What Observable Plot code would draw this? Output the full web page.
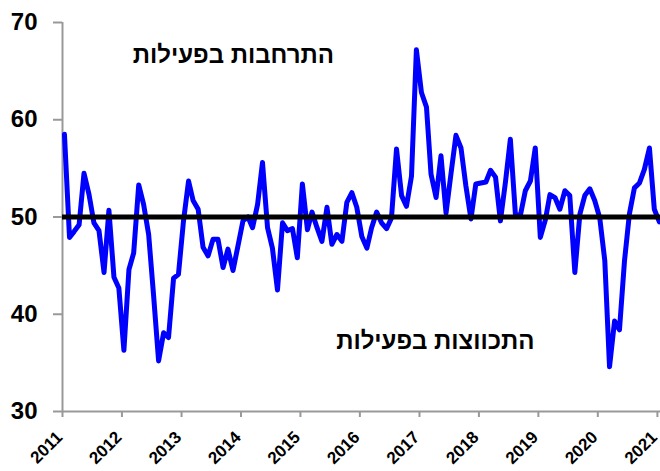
<!DOCTYPE html>
<html><head><meta charset="utf-8">
<script src="https://cdn.jsdelivr.net/npm/d3@7"></script>
<script src="https://cdn.jsdelivr.net/npm/@observablehq/plot@0.6"></script>
<style>body{margin:0;background:#fff} svg{display:block}</style>
</head><body><div id="chart"></div>
<script>
const startYear = 2011;
const values = [
  58.5, 47.9, 48.5, 49.2, 54.5, 52.3, 49.4, 48.6, 44.3, 50.7, 43.8, 42.7,
  36.3, 44.6, 46.3, 53.3, 51.3, 48.2, 42.0, 35.2, 38.1, 37.6, 43.7, 44.1,
  49.6, 53.7, 51.7, 50.8, 46.9, 46.0, 47.7, 47.7, 44.8, 46.7, 44.5, 47.0,
  49.6, 50.0, 48.9, 51.3, 55.6, 48.9, 46.8, 42.5, 49.4, 48.6, 48.8, 45.8,
  53.4, 48.7, 50.5, 48.9, 47.5, 51.0, 47.2, 48.2, 47.5, 51.5, 52.5, 51.0,
  48.0, 46.8, 48.9, 50.5, 49.4, 48.8, 49.9, 57.0, 52.2, 51.1, 54.2, 67.2,
  62.8, 61.3, 54.4, 52.0, 56.3, 50.4, 54.4, 58.4, 57.1, 53.2, 49.8, 53.4,
  53.5, 53.6, 54.8, 54.1, 49.6, 53.6, 58.0, 50.3, 50.2, 52.7, 53.7, 57.1,
  47.9, 49.7, 52.3, 52.0, 50.8, 52.7, 52.2, 44.3, 50.3, 52.2, 52.9, 51.7,
  49.9, 45.5, 34.6, 39.3, 38.4, 45.5, 50.3, 53.0, 53.5, 54.9, 57.1, 50.8,
  49.5
];
const yearTicks = [2011, 2012, 2013, 2014, 2015, 2016, 2017, 2018, 2019, 2020, 2021];
const yTicks = [30, 40, 50, 60, 70];
const threshold = 50;
const labels = ["התרחבות בפעילות", "התכווצות בפעילות"];

const utc = (y, m = 0, d = 1) => new Date(Date.UTC(y, m, d));
const data = values.map((v, i) => ({date: utc(startYear, i, 13), value: v}));
const yearDates = yearTicks.map(y => utc(y));
const annotations = [
  {text: labels[0], date: utc(2013, 10, 15), value: 66.6},
  {text: labels[1], date: utc(2017, 3, 8), value: 37.2}
];

const chart = Plot.plot({
  width: 660, height: 471,
  marginLeft: 62, marginRight: 0, marginTop: 22, marginBottom: 60,
  style: {fontFamily: "'Liberation Sans', Arial, sans-serif", background: "white", color: "black"},
  x: {type: "utc", domain: [utc(2011), utc(2021, 0, 20)]},
  y: {domain: [30, 70]},
  marks: [
    Plot.ruleY([30], {stroke: "#999", strokeWidth: 2}),
    Plot.ruleX([utc(2011)], {stroke: "#999", strokeWidth: 2}),
    Plot.axisY(yTicks, {tickSize: 9, tickPadding: 16, stroke: "#999", strokeWidth: 2, fill: "black",
      fontSize: 24, fontWeight: "bold", label: null}),
    Plot.axisX(yearDates, {tickSize: 6, text: null, stroke: "#999", strokeWidth: 2, label: null}),
    Plot.text(yearDates, {x: d => d, frameAnchor: "bottom", text: d => d3.utcFormat("%Y")(d),
      rotate: -45, textAnchor: "end", lineAnchor: "middle", dx: -3, dy: 23,
      fill: "black", fontSize: 17, fontWeight: "bold"}),
    Plot.line(data, {x: "date", y: "value", stroke: "#0000ff", strokeWidth: 5, strokeLinejoin: "round"}),
    Plot.ruleY([threshold], {stroke: "black", strokeWidth: 5}),
    Plot.text(annotations, {x: "date", y: "value", text: "text", fontSize: 24, fontWeight: "bold", fill: "black"})
  ]
});
document.getElementById("chart").appendChild(chart);
</script>
</body></html>
